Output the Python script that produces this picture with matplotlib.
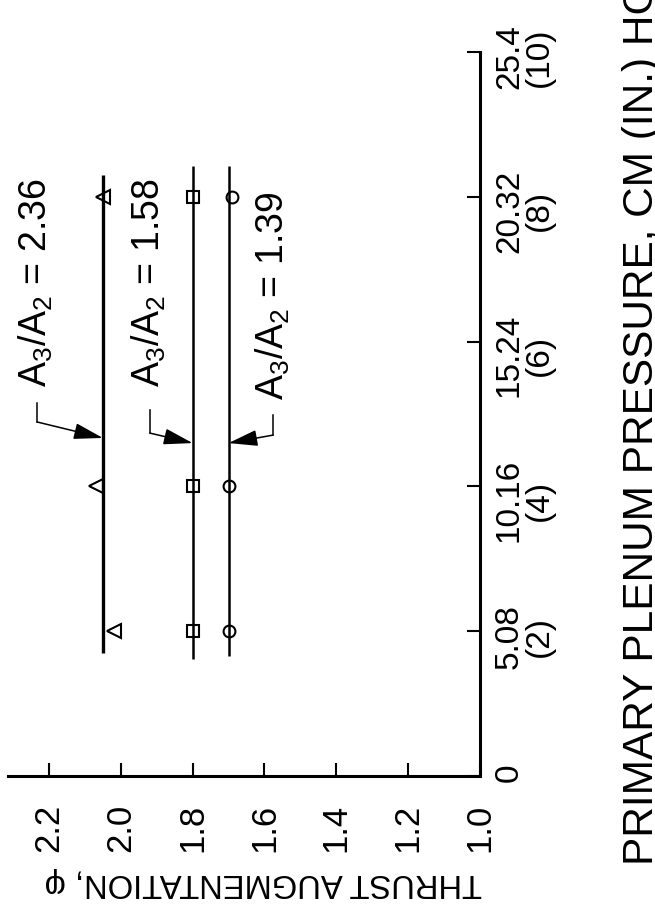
# -*- coding: utf-8 -*-
"""
推力增益 vs 初级增压室压力（旋转 90° 版面）
"""

import matplotlib.pyplot as plt

# 坐标轴刻度
phi_ticks = [2.2, 2.0, 1.8, 1.6, 1.4, 1.2, 1.0]
phi_labels = ["2.2", "2.0", "1.8", "1.6", "1.4", "1.2", "1.0"]
pressure_ticks = [0, 5.08, 10.16, 15.24, 20.32, 25.4]
pressure_labels = ["0", "5.08\n(2)", "10.16\n(4)", "15.24\n(6)",
                   "20.32\n(8)", "25.4\n(10)"]

# 试验点
pressure_pts = [5.08, 10.16, 20.32]
phi_tri = [2.02, 2.07, 2.05]
phi_sq = [1.80, 1.80, 1.80]
phi_circ = [1.70, 1.70, 1.69]

# 拟合线 (A3/A2, phi, 压力起止)
ratios = ["2.36", "1.58", "1.39"]
fair_phi = [2.05, 1.80, 1.70]
fair_start = [4.3, 4.1, 4.2]
fair_end = [21.1, 21.4, 21.4]

# 标注位置（数据坐标）
text_pos = [(2.205, 13.65), (1.891, 13.65), (1.546, 13.19)]
lead_top = [(2.233, 13.09), (1.919, 12.84), (1.576, 12.66)]
lead_corner = [(2.233, 12.42), (1.919, 12.03), (1.576, 11.96)]
lead_tip_p = [11.86, 11.68, 11.68]

plt.rcParams["mathtext.fontset"] = "custom"
plt.rcParams["mathtext.rm"] = "Liberation Sans"
FONT = ["Liberation Sans", "DejaVu Sans"]

fig = plt.figure(figsize=(6.55, 9.16), dpi=100)
ax = fig.add_axes([8 / 655, 140 / 916, 472 / 655, 724 / 916])
ax.set_xlim(2.314, 1.0)
ax.set_ylim(0, 25.4)

for side in ["top", "left"]:
    ax.spines[side].set_visible(False)
for side in ["bottom", "right"]:
    ax.spines[side].set_linewidth(2.2)

ax.yaxis.tick_right()
ax.set_xticks(phi_ticks)
ax.set_xticklabels(phi_labels, rotation=90, fontsize=25, family=FONT)
ax.set_yticks(pressure_ticks)
ax.set_yticklabels(pressure_labels, rotation=90, fontsize=24, family=FONT,
                   multialignment="center", linespacing=0.95)
ax.tick_params(axis="x", direction="in", length=9.5, width=1.5, pad=20)
ax.tick_params(axis="y", direction="in", length=9.5, width=1.5, pad=10)

# 拟合线
widths = [2.4, 1.8, 1.8]
for phi, p0, p1, lw in zip(fair_phi, fair_start, fair_end, widths):
    ax.plot([phi, phi], [p0, p1], color="black", lw=lw, solid_capstyle="butt")

# 试验点
ax.plot(phi_tri, pressure_pts, ls="none", marker="<", ms=10, mfc="none",
        mec="black", mew=1.5)
ax.plot(phi_sq, pressure_pts, ls="none", marker="s", ms=8.5, mfc="none",
        mec="black", mew=1.5)
ax.plot(phi_circ, pressure_pts, ls="none", marker="o", ms=8.5, mfc="none",
        mec="black", mew=1.5)

# 标注
for i in range(len(ratios)):
    ax.text(text_pos[i][0], text_pos[i][1],
            r"$\mathrm{A_3/A_2}$ = " + ratios[i],
            rotation=90, rotation_mode="anchor", ha="left", va="baseline",
            fontsize=27, family=FONT)
    ax.plot([lead_top[i][0], lead_corner[i][0]],
            [lead_top[i][1], lead_corner[i][1]], color="black", lw=1.1)
    ax.annotate("", xy=(fair_phi[i], lead_tip_p[i]), xytext=lead_corner[i],
                arrowprops=dict(arrowstyle="-|>,head_length=0.9,head_width=0.25",
                                color="black", lw=1.1, mutation_scale=20,
                                shrinkA=0, shrinkB=0))

# 坐标轴标题
fig.text(482 / 655, 1 - 874 / 916, "THRUST AUGMENTATION, φ", rotation=180,
         rotation_mode="anchor", ha="left", va="baseline", fontsize=23.6,
         family=FONT)
fig.text(653 / 655, 1 - 865 / 916, "PRIMARY PLENUM PRESSURE, CM (IN.) HG",
         rotation=90, rotation_mode="anchor", ha="left", va="baseline",
         fontsize=30.5, family=FONT)

plt.savefig("out.png", dpi=100)
